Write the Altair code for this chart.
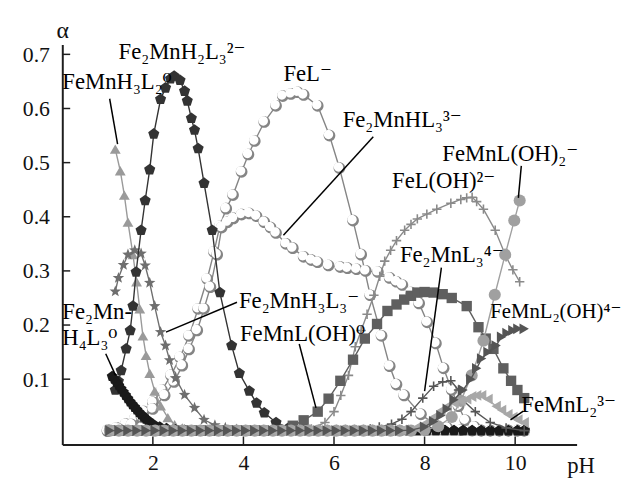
import altair as alt
import pandas as pd

FONT = "Liberation Serif, DejaVu Serif, serif"

# ---------------- data ----------------
x_ticks = [2, 4, 6, 8, 10]
y_ticks = [0.1, 0.2, 0.3, 0.4, 0.5, 0.6, 0.7]

floor_pH = [1.05, 1.25, 1.45, 1.65, 1.85, 2.05, 2.25, 2.45, 2.65, 2.85, 3.05, 3.25,
            3.45, 3.65, 3.85, 4.05, 4.25, 4.45, 4.65, 4.85, 5.05, 5.25, 5.45, 5.65,
            5.85, 6.05, 6.25, 6.45, 6.65, 6.85, 7.05, 7.25, 7.45, 7.65, 7.85, 8.05,
            8.25, 8.45, 8.65, 8.85, 9.05, 9.25, 9.45, 9.65, 9.85, 10.05, 10.2]
floor_alpha = 0.005

fe2mnh4l3_pH = [1.10, 1.15, 1.20, 1.25, 1.30, 1.35, 1.40, 1.45, 1.50, 1.55, 1.60, 1.65,
                1.70, 1.75, 1.80, 1.85, 1.90, 2.00, 2.15, 2.30, 2.50, 2.70, 2.90, 3.10]
fe2mnh4l3_a = [0.105, 0.100, 0.094, 0.088, 0.082, 0.076, 0.070, 0.064, 0.058, 0.053, 0.048, 0.043,
               0.038, 0.034, 0.030, 0.026, 0.023, 0.017, 0.012, 0.009, 0.007, 0.006, 0.005, 0.005]

femnh3l2_pH = [1.17, 1.28, 1.37, 1.45, 1.56, 1.64, 1.71, 1.78, 1.85, 1.93, 2.04, 2.17, 2.33,
               2.48, 2.65, 2.85, 3.05]
femnh3l2_a = [0.525, 0.485, 0.44, 0.39, 0.33, 0.28, 0.23, 0.18, 0.144, 0.111, 0.078, 0.051, 0.029,
              0.016, 0.01, 0.007, 0.005]

fe2mnh3l3_pH = [1.17, 1.24, 1.35, 1.45, 1.6, 1.74, 1.83, 1.93, 2.04, 2.17, 2.28, 2.37, 2.5, 2.7,
                2.92, 3.13, 3.37, 3.6, 3.85]
fe2mnh3l3_a = [0.262, 0.287, 0.311, 0.33, 0.338, 0.332, 0.31, 0.278, 0.235, 0.187, 0.162, 0.135,
               0.102, 0.071, 0.047, 0.025, 0.015, 0.01, 0.007]

fe2mnh2l3_pH = [1.17, 1.24, 1.30, 1.41, 1.50, 1.56, 1.63, 1.74, 1.83, 1.93, 2.02, 2.17, 2.28, 2.39,
                2.47, 2.60, 2.70, 2.76, 2.85, 2.92, 3.00, 3.13, 3.31, 3.48, 3.74, 3.91, 4.13, 4.29,
                4.46, 4.72, 5.0, 5.3]
fe2mnh2l3_a = [0.08, 0.096, 0.116, 0.156, 0.19, 0.235, 0.298, 0.375, 0.43, 0.487, 0.553, 0.617,
               0.638, 0.655, 0.66, 0.652, 0.632, 0.614, 0.582, 0.56, 0.526, 0.462, 0.375, 0.26,
               0.162, 0.111, 0.078, 0.056, 0.038, 0.02, 0.01, 0.006]

fe2mnhl3_pH = [1.0, 1.25, 1.53, 1.75, 2.0, 2.26, 2.47, 2.65, 2.8, 2.98, 3.13, 3.27, 3.42, 3.52, 3.65,
               3.78, 3.96, 4.13, 4.29, 4.46, 4.6, 4.72, 4.94, 5.09, 5.33, 5.5, 5.64, 5.88, 6.14,
               6.3, 6.5, 6.7, 6.97, 7.23, 7.38, 7.51, 7.7, 7.88, 8.06, 8.25, 8.42, 8.6, 8.75,
               8.9, 9.1]
fe2mnhl3_a = [0.004, 0.008, 0.016, 0.03, 0.045, 0.07, 0.095, 0.125, 0.155, 0.19, 0.23, 0.27, 0.33,
              0.38, 0.39, 0.397, 0.404, 0.406, 0.401, 0.39, 0.38, 0.37, 0.35, 0.342, 0.326, 0.32,
              0.316, 0.31, 0.307, 0.305, 0.303, 0.3, 0.298, 0.287, 0.28, 0.274, 0.26, 0.24, 0.205,
              0.166, 0.12, 0.08, 0.05, 0.024, 0.012]

fel_pH = [1.0, 1.2, 1.4, 1.6, 1.8, 2.0, 2.2, 2.4, 2.6, 2.8, 3.0, 3.2, 3.35, 3.48, 3.62, 3.77, 3.96,
          4.11, 4.25, 4.46, 4.72, 4.87, 5.05, 5.2, 5.33, 5.64, 5.9, 6.12, 6.42, 6.6, 6.8, 7.05,
          7.23, 7.38, 7.55, 7.92, 8.2, 8.5, 8.8]
fel_a = [0.006, 0.01, 0.017, 0.027, 0.04, 0.057, 0.08, 0.107, 0.14, 0.18, 0.23, 0.285, 0.335,
         0.383, 0.415, 0.44, 0.483, 0.515, 0.54, 0.575, 0.605, 0.623, 0.627, 0.63, 0.625, 0.605,
         0.55, 0.49, 0.393, 0.33, 0.255, 0.18, 0.124, 0.09, 0.07, 0.035, 0.018, 0.01, 0.006]

femnloh_pH = [4.75, 5.09, 5.33, 5.64, 5.88, 6.14, 6.42, 6.68, 6.95, 7.18, 7.38, 7.55, 7.7, 7.84,
              8.0, 8.2, 8.4, 8.6, 8.93, 9.19, 9.35, 9.52, 9.74, 9.91, 10.05, 10.2]
femnloh_a = [0.006, 0.014, 0.024, 0.04, 0.064, 0.097, 0.136, 0.175, 0.202, 0.226, 0.238, 0.247,
             0.254, 0.26, 0.261, 0.26, 0.257, 0.25, 0.235, 0.196, 0.175, 0.156, 0.12, 0.097,
             0.08, 0.065]

feloh_pH = [5.3, 5.5, 5.8, 6.0, 6.15, 6.32, 6.47, 6.6, 6.73, 6.88, 7.01, 7.12, 7.25, 7.38, 7.56,
            7.7, 7.84, 8.05, 8.27, 8.58, 8.8, 8.93, 9.05, 9.15, 9.3, 9.56, 9.8, 9.95, 10.1]
feloh_a = [0.005, 0.008, 0.02, 0.04, 0.07, 0.107, 0.16, 0.19, 0.22, 0.255, 0.29, 0.318, 0.338,
           0.356, 0.375, 0.386, 0.396, 0.405, 0.414, 0.425, 0.432, 0.435, 0.436, 0.428, 0.414,
           0.375, 0.326, 0.302, 0.28]

fe2mnl3_pH = [6.6, 6.8, 7.0, 7.27, 7.5, 7.7, 7.96, 8.2, 8.4, 8.58, 8.75, 8.86, 9.12, 9.45, 9.8, 10.2]
fe2mnl3_a = [0.006, 0.008, 0.012, 0.017, 0.026, 0.04, 0.065, 0.087, 0.095, 0.097, 0.08, 0.06,
             0.04, 0.02, 0.01, 0.005]

femnloh2_pH = [7.7, 8.0, 8.3, 8.6, 8.8, 9.04, 9.3, 9.55, 9.78, 9.98, 10.1]
femnloh2_a = [0.005, 0.006, 0.013, 0.03, 0.06, 0.107, 0.171, 0.256, 0.33, 0.393, 0.43]

femnl2oh_pH = [7.7, 8.0, 8.2, 8.36, 8.5, 8.65, 8.85, 9.02, 9.15, 9.26, 9.4, 9.58, 9.7, 9.82, 9.95,
               10.06, 10.2]
femnl2oh_a = [0.006, 0.012, 0.022, 0.033, 0.045, 0.062, 0.08, 0.1, 0.12, 0.138, 0.15, 0.162,
              0.178, 0.185, 0.19, 0.193, 0.193]

femnl2_pH = [7.5, 7.8, 8.0, 8.2, 8.36, 8.5, 8.65, 8.8, 8.93, 9.04, 9.15, 9.26, 9.4, 9.58, 9.7,
             9.84, 9.95, 10.06, 10.2]
femnl2_a = [0.006, 0.01, 0.018, 0.03, 0.042, 0.05, 0.056, 0.06, 0.063, 0.068, 0.07, 0.07, 0.063,
            0.05, 0.043, 0.035, 0.03, 0.025, 0.02]

# annotation labels (text, pH, alpha)
label_text = ["Fe₂MnH₂L₃²⁻", "FeMnH₃L₂⁰", "FeL⁻", "Fe₂MnHL₃³⁻", "FeMnL(OH)₂⁻", "FeL(OH)²⁻",
              "Fe₂MnL₃⁴⁻", "FeMnL₂³⁻", "Fe₂MnH₃L₃⁻", "FeMnL(OH)⁰", "Fe₂Mn-", "H₄L₃⁰"]
label_pH = [1.243, 0.0, 4.883, 6.191, 8.392, 7.281, 7.455, 10.136, 3.902, 3.924, 0.0, 0.0]
label_alpha = [0.705, 0.649, 0.663, 0.579, 0.516, 0.466, 0.330, 0.052, 0.244, 0.184, 0.224, 0.176]
edge_label = ["FeMnL₂(OH)⁴⁻"]
edge_pH = [9.45]
edge_alpha = [0.224]

# leader lines (from label to curve)
lead_pH1 = [1.046, 6.867, 10.136, 8.371, 10.18, 3.858, 5.232, 0.959]
lead_a1 = [0.618, 0.548, 0.494, 0.306, 0.041, 0.242, 0.165, 0.147]
lead_pH2 = [1.221, 4.883, 10.071, 8.0, 9.897, 2.289, 5.602, 1.177]
lead_a2 = [0.534, 0.366, 0.435, 0.078, 0.025, 0.187, 0.047, 0.107]

# ---------------- styling ----------------
PENTAGON = "M0,-1L0.951,-0.309L0.588,0.809L-0.588,0.809L-0.951,-0.309Z"
STAR = ("M0,-1L0.247,-0.34L0.951,-0.309L0.399,0.13L0.588,0.809L0,0.42L-0.588,0.809"
        "L-0.399,0.13L-0.951,-0.309L-0.247,-0.34Z")
PLUS = "M-1,0L1,0M0,-1L0,1"


def circ(cx, cy, r):
    return (f"M{cx + r},{cy}A{r},{r},0,1,1,{cx - r},{cy}"
            f"A{r},{r},0,1,1,{cx + r},{cy}Z")


BALL_SHADE = circ(0, 0, 1)
BALL_HILITE = circ(-0.17, -0.17, 0.8)

series = [
    dict(pH=fel_pH, a=fel_a, shape="ball", fill="white", stroke="#858585", line="#858585", size=140, lead=False, trail=True),
    dict(pH=fe2mnhl3_pH, a=fe2mnhl3_a, shape="ball", fill="white", stroke="#858585", line="#858585", size=140, lead=False, trail=True),
    dict(pH=feloh_pH, a=feloh_a, shape=PLUS, fill=None, stroke="#8a8a8a", line="#8a8a8a", size=90, lead=True, trail=False),
    dict(pH=femnh3l2_pH, a=femnh3l2_a, shape="triangle-up", fill="#9a9a9a", stroke=None, line="#9a9a9a", size=120, lead=False, trail=True),
    dict(pH=fe2mnh3l3_pH, a=fe2mnh3l3_a, shape=STAR, fill="#6e6e6e", stroke=None, line="#6e6e6e", size=150, lead=False, trail=True),
    dict(pH=fe2mnh2l3_pH, a=fe2mnh2l3_a, shape=PENTAGON, fill="#333333", stroke=None, line="#333333", size=140, lead=False, trail=True),
    dict(pH=fe2mnh4l3_pH, a=fe2mnh4l3_a, shape=PENTAGON, fill="#1a1a1a", stroke=None, line="#1a1a1a", size=130, lead=False, trail=True),
    dict(pH=femnloh_pH, a=femnloh_a, shape="square", fill="#5f5f5f", stroke=None, line="#5f5f5f", size=110, lead=True, trail=False),
    dict(pH=fe2mnl3_pH, a=fe2mnl3_a, shape=PLUS, fill=None, stroke="#555555", line="#555555", size=90, lead=True, trail=False),
    dict(pH=femnloh2_pH, a=femnloh2_a, shape="circle", fill="#a0a0a0", stroke=None, line="#a0a0a0", size=150, lead=True, trail=False),
    dict(pH=femnl2_pH, a=femnl2_a, shape="triangle-left", fill="#a8a8a8", stroke=None, line="#a8a8a8", size=120, lead=True, trail=False),
    dict(pH=femnl2oh_pH, a=femnl2oh_a, shape="triangle-right", fill="#555555", stroke=None, line="#555555", size=120, lead=True, trail=False),
]

W, H = 521, 405
xscale = alt.Scale(domain=[0, 11.357], nice=False, zero=False)
yscale = alt.Scale(domain=[-0.0205, 0.718], nice=False, zero=False)

xaxis = alt.Axis(values=x_ticks, format="d", ticks=False, tickSize=0, grid=False,
                 domainColor="#1e1e1e", domainWidth=2, labelFont=FONT, labelFontSize=22,
                 labelColor="#111", labelPadding=8, title="pH", titleFont=FONT,
                 titleFontSize=23, titleFontWeight="normal", titleColor="#111",
                 titleX=525, titleY=21, titleBaseline="middle", titleAlign="center",
                 titleAngle=0)
yaxis = alt.Axis(values=y_ticks, format=".1f", ticks=False, tickSize=0, grid=False,
                 domainColor="#1e1e1e", domainWidth=2, labelFont=FONT, labelFontSize=22,
                 labelColor="#111", labelPadding=13, title="α", titleFont=FONT,
                 titleFontSize=24, titleFontWeight="normal", titleColor="#111",
                 titleX=0, titleY=-14, titleBaseline="middle", titleAlign="center",
                 titleAngle=0)


def X(f):
    return alt.X(f, type="quantitative", scale=xscale, axis=xaxis)


def Y(f):
    return alt.Y(f, type="quantitative", scale=yscale, axis=yaxis)


layers = []
for s in series:
    pts_x, pts_a = [], []
    if s["lead"]:
        for p in floor_pH:
            if p < s["pH"][0] - 0.1:
                pts_x.append(p)
                pts_a.append(floor_alpha)
    pts_x += list(s["pH"])
    pts_a += list(s["a"])
    if s["trail"]:
        for p in floor_pH:
            if p > s["pH"][-1] + 0.1:
                pts_x.append(p)
                pts_a.append(floor_alpha)
    df = pd.DataFrame({"pH": pts_x, "alpha": pts_a})
    base = alt.Chart(df)
    enc = dict(x=X("pH"), y=Y("alpha"))
    layers.append(base.mark_line(color=s["line"], strokeWidth=1.4).encode(**enc))
    if s["shape"] == "ball":
        layers.append(base.mark_point(shape=BALL_SHADE, filled=True, fill=s["stroke"],
                                      size=s["size"], opacity=1, strokeWidth=0).encode(**enc))
        layers.append(base.mark_point(shape=BALL_HILITE, filled=True, fill="white",
                                      size=s["size"], opacity=1, strokeWidth=0).encode(**enc))
        continue
    if s["fill"] is None:
        mk = base.mark_point(shape=s["shape"], filled=False, stroke=s["stroke"], strokeWidth=1.6,
                             size=s["size"], opacity=1)
    else:
        mk = base.mark_point(shape=s["shape"], filled=True, fill=s["fill"], size=s["size"],
                             opacity=1, strokeWidth=0)
    layers.append(mk.encode(**enc))

# inward ticks
xt = pd.DataFrame({"v": x_ticks})
yt = pd.DataFrame({"v": y_ticks})
layers.append(alt.Chart(xt).mark_rule(color="#1e1e1e", strokeWidth=1.5).encode(
    x=X("v"), y=alt.value(H), y2=alt.value(H - 8)))
layers.append(alt.Chart(yt).mark_rule(color="#1e1e1e", strokeWidth=1.5).encode(
    y=Y("v"), x=alt.value(0), x2=alt.value(8)))

# leader lines
ld = pd.DataFrame({"pH": lead_pH1, "alpha": lead_a1, "pH2": lead_pH2, "alpha2": lead_a2})
layers.append(alt.Chart(ld).mark_rule(color="#000", strokeWidth=1.5).encode(
    x=X("pH"), y=Y("alpha"), x2="pH2", y2="alpha2"))

# labels
lb = pd.DataFrame({"pH": label_pH, "alpha": label_alpha, "t": label_text})
layers.append(alt.Chart(lb).mark_text(font=FONT, fontSize=23, align="left", baseline="middle",
                                      color="#000").encode(x=X("pH"), y=Y("alpha"), text="t:N"))
eb = pd.DataFrame({"pH": edge_pH, "alpha": edge_alpha, "t": edge_label})
layers.append(alt.Chart(eb).mark_text(font=FONT, fontSize=21, align="left", baseline="middle",
                                      color="#000").encode(x=X("pH"), y=Y("alpha"), text="t:N"))

chart = alt.layer(*layers).properties(
    width=W, height=H,
    autosize=alt.AutoSizeParams(type="none"),
    padding={"left": 55, "top": 34, "right": 47, "bottom": 36},
).configure_view(stroke=None)

chart.save("out.html", embed_options={"renderer": "svg", "actions": False})
